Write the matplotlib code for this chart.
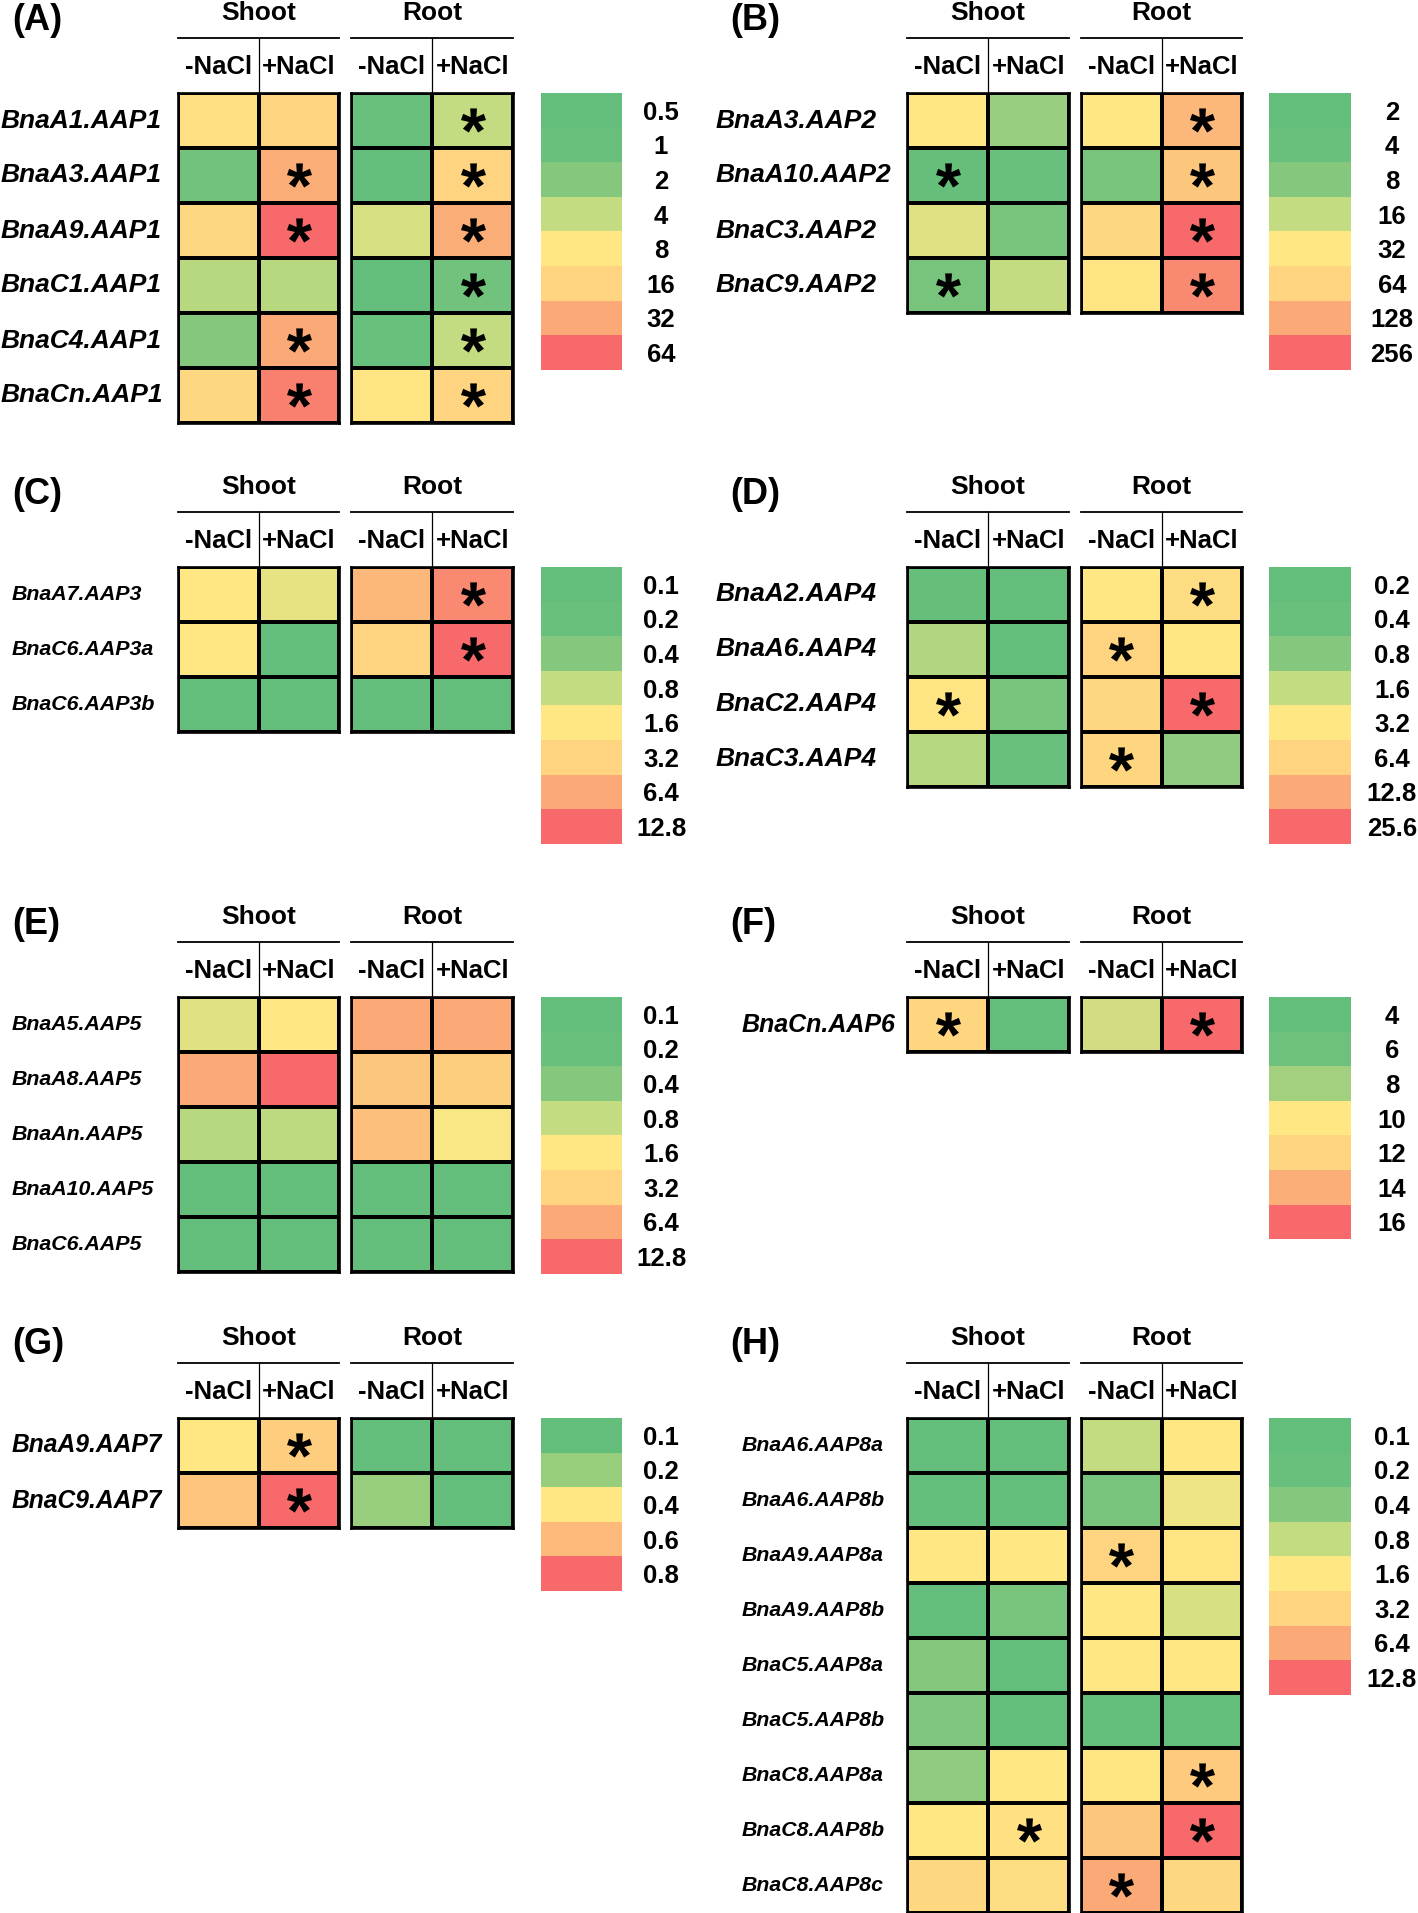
import numpy as np
import matplotlib
matplotlib.use('Agg')
import matplotlib.pyplot as plt
from matplotlib.colors import LinearSegmentedColormap, FuncNorm
from matplotlib.textpath import TextPath
from matplotlib.font_manager import FontProperties
from matplotlib.path import Path

plt.rcParams['font.family'] = ['Liberation Sans', 'DejaVu Sans']

cond_labels = ['-NaCl', '+NaCl']
tissue_labels = ['Shoot', 'Root']

# (A) AAP1
genes_a = ['BnaA1.AAP1', 'BnaA3.AAP1', 'BnaA9.AAP1', 'BnaC1.AAP1', 'BnaC4.AAP1', 'BnaCn.AAP1']
shoot_a = [[10, 16], [1.2, 30], [14, 64], [3.5, 3.5], [2, 32], [14, 50]]
root_a = [[1, 4], [0.6, 16], [5, 30], [0.5, 1.2], [0.9, 4], [9, 16]]
sig_a = [[0, 0, 0, 1], [0, 1, 0, 1], [0, 1, 0, 1], [0, 0, 0, 1], [0, 1, 0, 1], [0, 1, 0, 1]]
levels_a = [0.5, 1, 2, 4, 8, 16, 32, 64]

# (B) AAP2
genes_b = ['BnaA3.AAP2', 'BnaA10.AAP2', 'BnaC3.AAP2', 'BnaC9.AAP2']
shoot_b = [[32, 10], [2.5, 4], [22, 6], [6, 16]]
root_b = [[32, 100], [6, 80], [55, 256], [35, 180]]
sig_b = [[0, 0, 0, 1], [1, 0, 0, 1], [0, 0, 0, 1], [1, 0, 0, 1]]
levels_b = [2, 4, 8, 16, 32, 64, 128, 256]

# (C) AAP3
genes_c = ['BnaA7.AAP3', 'BnaC6.AAP3a', 'BnaC6.AAP3b']
shoot_c = [[1.6, 1.2], [1.6, 0.1], [0.1, 0.1]]
root_c = [[5, 9], [3.2, 12.8], [0.1, 0.1]]
sig_c = [[0, 0, 0, 1], [0, 0, 0, 1], [0, 0, 0, 0]]
levels_c = [0.1, 0.2, 0.4, 0.8, 1.6, 3.2, 6.4, 12.8]

# (D) AAP4
genes_d = ['BnaA2.AAP4', 'BnaA6.AAP4', 'BnaC2.AAP4', 'BnaC3.AAP4']
shoot_d = [[0.25, 0.2], [1.3, 0.2], [3.5, 0.6], [1.4, 0.4]]
root_d = [[3.2, 4.5], [6.4, 3.2], [5.5, 25.6], [6, 0.9]]
sig_d = [[0, 0, 0, 1], [0, 0, 1, 0], [1, 0, 0, 1], [0, 0, 1, 0]]
levels_d = [0.2, 0.4, 0.8, 1.6, 3.2, 6.4, 12.8, 25.6]

# (E) AAP5
genes_e = ['BnaA5.AAP5', 'BnaA8.AAP5', 'BnaAn.AAP5', 'BnaA10.AAP5', 'BnaC6.AAP5']
shoot_e = [[1.1, 1.6], [6.4, 12.8], [0.7, 0.75], [0.1, 0.1], [0.1, 0.1]]
root_e = [[6.4, 6.4], [4, 3.5], [4.5, 1.5], [0.1, 0.1], [0.1, 0.1]]
sig_e = [[0, 0, 0, 0]] * 5
levels_e = [0.1, 0.2, 0.4, 0.8, 1.6, 3.2, 6.4, 12.8]

# (F) AAP6
genes_f = ['BnaCn.AAP6']
shoot_f = [[12, 4]]
root_f = [[9, 16]]
sig_f = [[1, 0, 0, 1]]
levels_f = [4, 6, 8, 10, 12, 14, 16]

# (G) AAP7
genes_g = ['BnaA9.AAP7', 'BnaC9.AAP7']
shoot_g = [[0.4, 0.5], [0.55, 0.8]]
root_g = [[0.1, 0.1], [0.2, 0.1]]
sig_g = [[0, 1, 0, 0], [0, 1, 0, 0]]
levels_g = [0.1, 0.2, 0.4, 0.6, 0.8]

# (H) AAP8
genes_h = ['BnaA6.AAP8a', 'BnaA6.AAP8b', 'BnaA9.AAP8a', 'BnaA9.AAP8b', 'BnaC5.AAP8a',
           'BnaC5.AAP8b', 'BnaC8.AAP8a', 'BnaC8.AAP8b', 'BnaC8.AAP8c']
shoot_h = [[0.1, 0.1], [0.1, 0.1], [1.6, 1.6], [0.1, 0.3], [0.4, 0.12],
           [0.35, 0.12], [0.45, 1.6], [1.6, 2.0], [2.8, 2.4]]
root_h = [[0.8, 1.6], [0.3, 1.3], [3.2, 1.8], [1.6, 1.0], [1.6, 1.6],
          [0.1, 0.1], [1.7, 3.8], [4, 12.8], [6.4, 2.8]]
sig_h = [[0, 0, 0, 0], [0, 0, 0, 0], [0, 0, 1, 0], [0, 0, 0, 0], [0, 0, 0, 0],
         [0, 0, 0, 0], [0, 0, 0, 1], [0, 1, 0, 1], [0, 0, 1, 0]]
levels_h = [0.1, 0.2, 0.4, 0.8, 1.6, 3.2, 6.4, 12.8]

# legend block colours
colors_8 = ['#63BE7B', '#68C07C', '#86C77E', '#C4DC81', '#FFE784', '#FED480', '#FBAA77', '#F8696B']
colors_7 = ['#63BE7B', '#6DC17C', '#A3D07F', '#FFE784', '#FED680', '#FCAF78', '#F8696B']
colors_5 = ['#63BE7B', '#98CD7E', '#FFE784', '#FDBB7A', '#F8696B']

W, H = 1418, 1913
ROW = 55.0      # cell height, px
BLOCK = 34.6    # legend block height, px


def px_axes(fig, x0, y0, x1, y1):
    """axes from a pixel box (top-left origin)"""
    return fig.add_axes([x0 / W, 1 - y1 / H, (x1 - x0) / W, (y1 - y0) / H])


def make_norm(levels):
    """legend levels spaced evenly along the colour scale"""
    lv = np.log(np.asarray(levels, dtype=float))
    idx = np.arange(len(levels), dtype=float)

    def fwd(x):
        x = np.clip(np.asarray(x, dtype=float), levels[0], levels[-1])
        return np.interp(np.log(x), lv, idx)

    def inv(y):
        return np.exp(np.interp(y, idx, lv))

    return FuncNorm((fwd, inv), vmin=levels[0], vmax=levels[-1])


def asterisk_marker():
    tp = TextPath((0, 0), '*', size=1,
                  prop=FontProperties(family='Liberation Sans', weight='bold'))
    v = tp.vertices.copy()
    codes = tp.codes
    keep = codes != Path.CLOSEPOLY
    v -= (v[keep].min(axis=0) + v[keep].max(axis=0)) / 2
    v[~keep] = 0
    return Path(v, codes)


STAR = asterisk_marker()


def draw_block(ax, vals, stars, cmap, norm, title):
    vals = np.asarray(vals, dtype=float)
    n = vals.shape[0]
    ax.pcolormesh(np.arange(3), np.arange(n + 1), vals, cmap=cmap, norm=norm,
                  edgecolors='black', linewidth=1.7)
    ax.set_xlim(0, 2)
    ax.set_ylim(n, 0)
    ax.set_xticks([])
    ax.set_yticks([])
    for s in ax.spines.values():
        s.set_linewidth(1.9)
        s.set_color('black')

    r, c = np.nonzero(np.asarray(stars))
    if len(r):
        ax.scatter(c + 0.5, r + 0.49, marker=STAR, s=18 ** 2, color='black',
                   linewidths=0, zorder=3)

    # header: tissue, bracket line, conditions
    ax.text(1, -80 / ROW, title, ha='center', va='center', fontsize=19,
            fontweight='bold')
    ax.plot([0, 2], [-55 / ROW, -55 / ROW], color='black', lw=1.3, clip_on=False)
    ax.plot([1, 1], [-55 / ROW, 0], color='black', lw=0.9, clip_on=False)
    for j, lab in enumerate(cond_labels):
        ax.text(j + 0.5, -26 / ROW, lab, ha='center', va='center', fontsize=18.5,
                fontweight='bold')


def draw_legend(fig, levels, cmap, norm, x0, x1, top, label_x):
    n = len(levels)
    lax = px_axes(fig, x0, top, x1, top + n * BLOCK)
    lax.pcolormesh([0, 1], np.arange(n + 1), np.asarray(levels, dtype=float)[:, None],
                   cmap=cmap, norm=norm)
    lax.set_xlim(0, 1)
    lax.set_ylim(n, 0)
    lax.set_xticks([])
    lax.yaxis.tick_right()
    lax.set_yticks(np.arange(n) + 0.5, labels=['{:g}'.format(l) for l in levels])
    lax.tick_params(axis='y', length=0, pad=(label_x - x1) * 72 / 100, labelsize=18.5)
    for t in lax.get_yticklabels():
        t.set_ha('center')
        t.set_fontweight('bold')
    for s in lax.spines.values():
        s.set_visible(False)


def draw_panel(fig, letter, genes, shoot, root, sig, levels, colors, side, top,
               gene_x, gene_size):
    cmap = LinearSegmentedColormap.from_list('gyr', colors)
    norm = make_norm(levels)
    n = len(genes)
    sig = np.asarray(sig)

    if side == 'left':
        letter_x, sx, rx, lx, label_x = 12, (178, 339), (351, 513), (541, 622), 661
    else:
        letter_x, sx, rx, lx, label_x = 730, (907, 1069), (1081, 1242), (1269, 1351), 1392

    bottom = top + n * ROW
    ax_s = px_axes(fig, sx[0], top, sx[1], bottom)
    ax_r = px_axes(fig, rx[0], top, rx[1], bottom)
    draw_block(ax_s, shoot, sig[:, :2], cmap, norm, tissue_labels[0])
    draw_block(ax_r, root, sig[:, 2:], cmap, norm, tissue_labels[1])

    draw_legend(fig, levels, cmap, norm, lx[0], lx[1], top, label_x)

    fig.text(letter_x / W, 1 - (top - 73) / H, '({})'.format(letter), ha='left',
             va='center', fontsize=26, fontweight='bold')
    for i, g in enumerate(genes):
        yc = top + (i + 0.5) * ROW
        fig.text(gene_x / W, 1 - yc / H, g, ha='left', va='center',
                 fontsize=gene_size, fontweight='bold', style='italic')


def main():
    fig = plt.figure(figsize=(W / 100, H / 100), dpi=100)
    fig.patch.set_facecolor('white')

    draw_panel(fig, 'A', genes_a, shoot_a, root_a, sig_a, levels_a, colors_8, 'left', 93, 1, 19)
    draw_panel(fig, 'B', genes_b, shoot_b, root_b, sig_b, levels_b, colors_8, 'right', 93, 716, 19)
    draw_panel(fig, 'C', genes_c, shoot_c, root_c, sig_c, levels_c, colors_8, 'left', 567, 12, 15.4)
    draw_panel(fig, 'D', genes_d, shoot_d, root_d, sig_d, levels_d, colors_8, 'right', 567, 716, 19)
    draw_panel(fig, 'E', genes_e, shoot_e, root_e, sig_e, levels_e, colors_8, 'left', 997, 12, 15.4)
    draw_panel(fig, 'F', genes_f, shoot_f, root_f, sig_f, levels_f, colors_7, 'right', 997, 742, 18)
    draw_panel(fig, 'G', genes_g, shoot_g, root_g, sig_g, levels_g, colors_5, 'left', 1418, 12, 17.7)
    draw_panel(fig, 'H', genes_h, shoot_h, root_h, sig_h, levels_h, colors_8, 'right', 1418, 742, 15.3)

    fig.savefig('out.png', dpi=100, facecolor='white')


if __name__ == '__main__':
    main()
